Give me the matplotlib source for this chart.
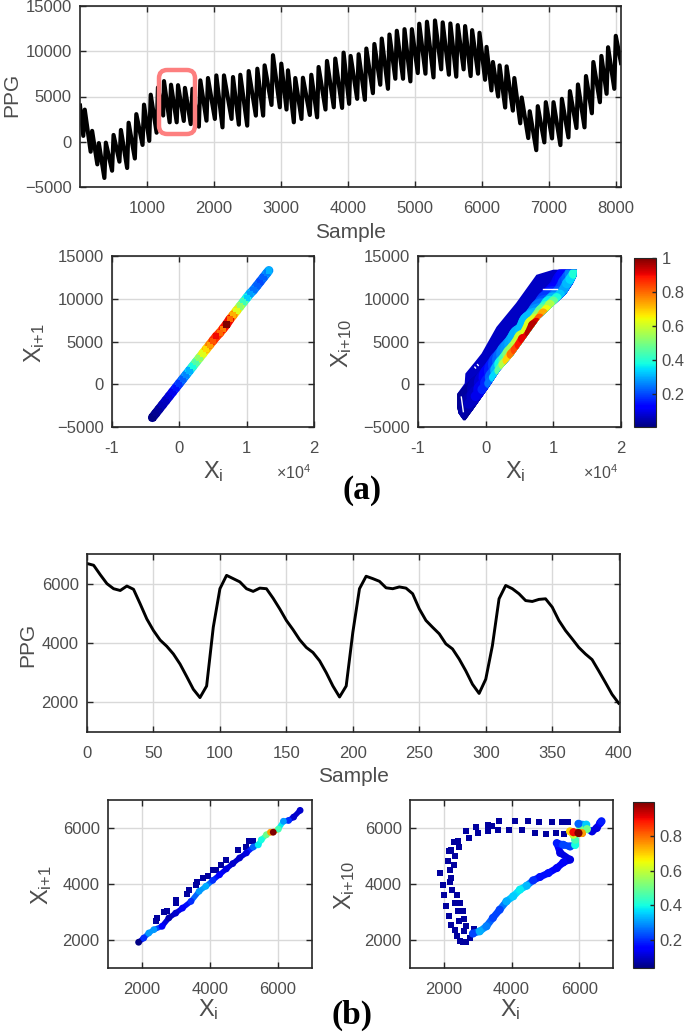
import numpy as np
import matplotlib
matplotlib.use("Agg")
from matplotlib import pyplot as plt
from matplotlib.collections import LineCollection
from matplotlib.patches import FancyBboxPatch, Polygon

W, H = 685, 1032
plt.rcParams["font.family"] = ["Liberation Sans", "DejaVu Sans"]
plt.rcParams["mathtext.fontset"] = "custom"
plt.rcParams["mathtext.rm"] = "Liberation Sans"
plt.rcParams["mathtext.default"] = "regular"

# long recording, read as peak and trough of every beat
peak_x = [1, 72, 182, 282, 387, 502, 612, 727, 842, 957, 1057, 1165, 1255, 1360, 1465, 1568, 1680,
          1798, 1912, 2037, 2151, 2286, 2395, 2520, 2649, 2758, 2883, 3007, 3107, 3216, 3330, 3455,
          3564, 3689, 3813, 3937, 4042, 4162, 4277, 4397, 4507, 4622, 4732, 4847, 4957, 5067, 5182,
          5302, 5417, 5532, 5642, 5752, 5857, 5967, 6072, 6167, 6267, 6372, 6487, 6597, 6717, 6837,
          6957, 7072, 7197, 7317, 7437, 7557, 7667, 7787, 7887, 8002]
peak_y = [4000, 3550, 1200, -150, -100, 750, 1300, 2100, 3050, 4100, 5200, 6000, 6700, 6300, 6250,
          5950, 5850, 6780, 7040, 7330, 7330, 7150, 7400, 7810, 8070, 8440, 9560, 8630, 7890, 7040,
          7070, 7400, 8260, 8930, 9190, 9850, 9480, 9670, 10300, 10800, 11400, 11850, 12260, 12440,
          12440, 13040, 13260, 13400, 13190, 13070, 12890, 12780, 12330, 12040, 10480, 8810, 8440,
          8330, 7040, 4890, 3370, 3930, 4370, 4370, 4740, 5590, 6330, 7260, 8810, 9480, 10440, 11700]
trough_x = [50, 160, 260, 365, 480, 590, 705, 820, 935, 1035, 1145, 1243, 1340, 1445, 1551, 1655, 1776,
            1890, 2015, 2129, 2264, 2373, 2498, 2627, 2736, 2861, 2985, 3085, 3194, 3308, 3433, 3542,
            3667, 3791, 3915, 4020, 4140, 4255, 4375, 4485, 4600, 4710, 4825, 4935, 5045, 5160, 5280,
            5395, 5510, 5620, 5730, 5835, 5945, 6050, 6145, 6245, 6350, 6465, 6575, 6695, 6815, 6935,
            7050, 7175, 7295, 7415, 7535, 7645, 7765, 7865, 7980, 8080]
trough_y = [650, -1100, -2500, -4000, -3200, -2200, -2900, -1850, -350, 100, 1000, 2900, 2150, 2150, 2300,
            1950, 1670, 2330, 2520, 1590, 2520, 1890, 1780, 2890, 2890, 4070, 3810, 3560, 2150, 2520,
            2960, 2700, 3560, 3810, 3740, 4190, 4740, 4630, 5370, 6300, 5850, 6960, 6960, 6670, 7590,
            7520, 7110, 8000, 7410, 7190, 8000, 7260, 7520, 6850, 5670, 5000, 3780, 3440, 2040, 410,
            -930, -70, 370, -370, 480, 1520, 1590, 3150, 4370, 5300, 5850, 8700]

# short segment, one reading every 5 samples
seg_x = list(range(0, 401, 5))
seg_y = [6680, 6620, 6300, 6000, 5830, 5770, 5920, 5810, 5320, 4810, 4420, 4100, 3890, 3630, 3290,
         2870, 2440, 2160, 2550, 4530, 5830, 6280, 6170, 6060, 5830, 5740, 5850, 5830, 5510, 5150,
         4760, 4450, 4110, 3850, 3680, 3400, 3000, 2550, 2180, 2550, 4360, 5830, 6250, 6170, 6080,
         5860, 5830, 5890, 5850, 5660, 5150, 4760, 4530, 4310, 3970, 3800, 3460, 3060, 2610, 2300,
         2780, 3910, 5490, 5940, 5830, 5660, 5430, 5400, 5470, 5490, 5210, 4760, 4420, 4140, 3850,
         3630, 3440, 3060, 2670, 2270, 1970]

# (a) lag 1 band
a1_x = [-4000, -3500, -3000, -2500, -2000, -1500, -1000, -500, 0, 500, 1000, 1500, 2000, 2500, 3000,
        3500, 4000, 4500, 5000, 5500, 6000, 6500, 7000, 7500, 8000, 8500, 9000, 9500, 10000, 10500,
        11000, 11500, 12000, 12500, 13000, 13300]
a1_y = [-3900, -3400, -2900, -2400, -1900, -1400, -900, -400, 100, 600, 1100, 1600, 2100, 2600, 3100,
        3600, 4100, 4600, 5100, 5600, 6000, 6500, 7000, 7600, 8100, 8600, 9100, 9600, 10100, 10600,
        11000, 11500, 12000, 12500, 13000, 13300]
a1_d = [.01, .02, .03, .05, .06, .08, .1, .14, .18, .22, .26, .3, .38, .45, .52, .62, .68, .74, .82,
        .9, .8, .78, 1.0, .8, .72, .62, .52, .42, .33, .28, .24, .22, .2, .22, .25, .3]

# (a) lag 10 blue cloud outline, then the ridge along its lower side
a2_edge_x = [-4200, -3100, -3000, -1600, -600, 1600, 4500, 7500, 10000, 13500, 13400, 12900, 11900,
             8000, 4000, 2100, 500, -1900, -3000, -3300, -4000, -4200]
a2_edge_y = [-1100, 100, 1250, 2600, 3600, 6700, 9500, 12800, 13400, 13400, 12600, 11800, 10600,
             7700, 3300, 1600, -300, -3000, -4200, -4200, -3400, -2700]
a2_x = [-3500, -2500, -1500, -500, 500, 1200, 2000, 2600, 3200, 3800, 4400, 5000, 5500, 6000, 6500,
        7000, 7500, 8000, 8500, 9000, 9500, 10000, 10500, 11000, 11500, 12000, 12500, 13000, 13400]
a2_y = [-3500, -2300, -1400, -600, 100, 800, 1600, 2300, 2800, 3500, 4000, 4600, 5300, 5400, 6000,
        6900, 7200, 7700, 8300, 8700, 9300, 9700, 10100, 10500, 11000, 11800, 12300, 12900, 13300]
a2_d = [.03, .05, .08, .12, .2, .28, .4, .52, .62, .75, .82, .85, .92, .9, .9, 1.0, .85, .78, .68,
        .6, .52, .42, .35, .3, .28, .3, .32, .36, .42]
a2_hole_x = [[8500, 10500], [-3600, -3300], [-1600, -1500], [-1200, -1100]]
a2_hole_y = [[11100, 11100], [-1500, -3200], [2000, 1900], [2300, 2200]]

# (b) lag 1
b1_sparse_x = [2400, 2450, 2640, 2740, 2990, 2990, 3310, 3390, 3600, 3630, 3800, 3930, 4080, 4180,
               4330, 4480, 4820, 5070, 5150, 5270]
b1_sparse_y = [2690, 2790, 2990, 3020, 3320, 3420, 3650, 3800, 3960, 4060, 4210, 4300, 4490, 4510,
               4690, 4850, 5200, 5310, 5520, 5520]
b1_x = [1900, 2050, 2200, 2350, 2590, 2790, 2990, 3190, 3440, 3680, 3880, 4080, 4280, 4480, 4670,
        4870, 5070, 5270, 5420, 5510, 5660, 5780, 5860, 6010, 6160, 6310, 6460, 6650]
b1_y = [1920, 2070, 2250, 2370, 2490, 2790, 2960, 3140, 3380, 3740, 3920, 4130, 4330, 4540, 4730,
        4930, 5110, 5320, 5400, 5580, 5760, 5850, 5850, 5960, 6240, 6270, 6390, 6630]
b1_d = [.04, .2, .3, .3, .15, .08, .1, .14, .2, .3, .32, .2, .15, .12, .1, .1, .12, .25, .38, .4,
        .5, .75, 1.0, .45, .3, .2, .1, .1]

# (b) lag 10
b2_sparse_x = [1900, 1970, 2000, 2070, 2140, 2220, 2320, 2390, 2490, 2560, 2660, 2760, 2150, 2220,
               2300, 2420, 2660, 2740, 2450, 2340, 2300, 2170, 2120, 2220, 2170, 2240, 2390, 2320,
               2470, 2420, 2560, 2440, 2610, 2660, 2890, 2610, 2960, 3010, 3310, 3410, 3310, 3600,
               3630, 4100, 3930, 4300, 4500, 4820, 4690, 5020, 5190, 5320, 5490, 5680, 5550]
b2_sparse_y = [4390, 3980, 3620, 3200, 2850, 2550, 2350, 2130, 1950, 1920, 1930, 2070, 5170, 5200,
               5490, 5550, 5880, 5640, 5320, 4990, 4690, 4510, 4830, 4210, 4060, 3800, 3620, 3320,
               3320, 3020, 3020, 2670, 2750, 2490, 2400, 2310, 6040, 5820, 6120, 6080, 5880, 5920,
               6260, 6260, 5920, 5920, 6240, 6200, 5820, 5790, 6210, 5820, 6210, 6210, 5790]
b2_x = [2860, 3060, 3260, 3450, 3650, 3850, 4050, 4250, 4450, 4640, 4840, 5090, 5340, 5530, 5730,
        5440, 5340, 5530, 5730, 5880, 5880, 5830, 5730, 5830, 5980, 6080, 5980, 6210, 6230, 6380,
        6520, 6620, 6660]
b2_y = [2230, 2310, 2490, 2790, 3080, 3380, 3560, 3800, 3940, 4130, 4250, 4390, 4570, 4770, 4870,
        5110, 5460, 5400, 5340, 5400, 5580, 5760, 5880, 5850, 5820, 5820, 6150, 6120, 5960, 5880,
        6000, 6180, 6240]
b2_d = [.22, .32, .28, .22, .22, .32, .35, .38, .33, .2, .17, .17, .14, .14, .12, .12, .18, .22, .22,
        .4, .45, .6, .7, .9, 1.0, .75, .25, .35, .5, .12, .12, .15, .18]

DARK = "#262626"
GREY = "#4d4d4d"
GRID = "#d9d9d9"


def place(left, top, right, bottom):
    # axes from pixel edges of the figure
    ax = fig.add_axes([left / W, 1 - bottom / H, (right - left) / W, (bottom - top) / H])
    for s in ax.spines.values():
        s.set_color(DARK)
        s.set_linewidth(1.2)
    ax.tick_params(direction="in", top=True, right=True, length=4, width=1, color=DARK,
                   labelcolor=GREY, labelsize=12)
    ax.tick_params(axis="x", pad=10)
    ax.tick_params(axis="y", pad=6)
    ax.grid(True, color=GRID, lw=1)
    ax.set_axisbelow(True)
    return ax


def label(x, y, s, size=15, rot=0, **kw):
    kw.setdefault("color", GREY)
    fig.text(x / W, 1 - y / H, s, fontsize=size, rotation=rot, ha="center", va="center", **kw)


def band(ax, x, y, d, width, vmin, vmax=1, zorder=3, clip=None):
    # thick path between the read points, coloured by density, hottest on top
    pts = np.column_stack([x, y])
    segs = np.stack([pts[:-1], pts[1:]], axis=1)
    vals = (np.array(d[:-1]) + np.array(d[1:])) / 2
    idx = np.argsort(vals)
    lc = LineCollection(segs[idx], array=vals[idx], cmap="jet", linewidths=width, capstyle="round",
                        zorder=zorder)
    lc.set_clim(vmin, vmax)
    ax.add_collection(lc)
    if clip is not None:
        lc.set_clip_path(clip)
    return lc


fig = plt.figure(figsize=(W / 100, H / 100), dpi=100)

# (a) long recording
ax = place(80, 6, 621, 187)
order = np.argsort(peak_x + trough_x)
long_x = np.array(peak_x + trough_x)[order]
long_y = np.array(peak_y + trough_y)[order]
ax.plot(long_x, long_y, color="black", lw=3, solid_joinstyle="round")
ax.set_xlim(1, 8080)
ax.set_ylim(-5000, 15000)
ax.set_xticks(range(1000, 8001, 1000))
ax.set_yticks(range(-5000, 15001, 5000))
label(12, 95, "PPG", rot=90)
label(350, 232, "Sample")

# red box over the segment shown in (b)
fig.add_artist(FancyBboxPatch((159 / W, 1 - 134 / H), 36 / W, 64 / H, transform=fig.transFigure,
                              boxstyle="round,pad=0,rounding_size=0.012",
                              mutation_aspect=W / H, fc="none", ec="#fd7f7f", lw=3.2))

# (a) lag 1
ax = place(112, 256, 314, 427)
band(ax, a1_x, a1_y, a1_d, 6.5, 0.003)
idx = np.argsort(a1_d)
sc = ax.scatter(np.array(a1_x)[idx], np.array(a1_y)[idx], c=np.array(a1_d)[idx], s=20, marker="s",
                cmap="jet", vmin=0.003, vmax=1, linewidths=0, zorder=4)
ax.set_xlim(-10000, 20000)
ax.set_ylim(-5000, 15000)
ax.set_xticks([-10000, 0, 10000, 20000])
ax.set_xticklabels(["-1", "0", "1", "2"])
ax.set_yticks(range(-5000, 15001, 5000))
label(35, 343, "$X_{i{+}1}$", size=17, rot=90)
label(213, 472, "$X_{i}$", size=17)
label(294, 473, r"$\times10^{4}$", size=11.5)

# (a) lag 10
ax = place(418, 256, 621, 427)
body = Polygon(np.column_stack([a2_edge_x, a2_edge_y]), closed=True, fc=plt.cm.jet(0.06), ec="none", zorder=2)
ax.add_patch(body)
for width, share, z in [(22, .33, 3), (13, .65, 4), (7, 1.0, 5)]:
    band(ax, a2_x, a2_y, list(np.array(a2_d) * share), width, 0.003, zorder=z, clip=body)
for hx, hy in zip(a2_hole_x, a2_hole_y):
    ax.plot(hx, hy, color="white", lw=1, zorder=6)
ax.set_xlim(-10000, 20000)
ax.set_ylim(-5000, 15000)
ax.set_xticks([-10000, 0, 10000, 20000])
ax.set_xticklabels(["-1", "0", "1", "2"])
ax.set_yticks(range(-5000, 15001, 5000))
label(342, 343, "$X_{i{+}10}$", size=17, rot=90)
label(515, 472, "$X_{i}$", size=17)
label(601, 473, r"$\times10^{4}$", size=11.5)

cax = fig.add_axes([634 / W, 1 - 427 / H, 22 / W, 169 / H])
cb = fig.colorbar(sc, cax=cax, ticks=[.2, .4, .6, .8, 1])
cb.ax.set_yticklabels(["0.2", "0.4", "0.6", "0.8", "1"])
cb.ax.tick_params(length=3, width=1, direction="in", color=DARK, labelcolor=GREY, labelsize=12, pad=4)
cb.outline.set_edgecolor(DARK)

label(362, 491, "(a)", size=24, family="Liberation Serif", weight="bold", color="black")

# (b) short segment
ax = place(87, 554, 620, 732)
ax.plot(seg_x, seg_y, color="black", lw=2.1, solid_joinstyle="round")
ax.set_xlim(0, 401)
ax.set_ylim(1000, 7000)
ax.set_xticks(range(0, 401, 50))
ax.set_yticks([2000, 4000, 6000])
label(28, 645, "PPG", rot=90)
label(353, 777, "Sample")

# (b) lag 1
ax = place(108, 800, 312, 968)
ax.scatter(b1_sparse_x, b1_sparse_y, color=plt.cm.jet(0.03), s=13, marker="s", linewidths=0)
band(ax, b1_x, b1_y, b1_d, 3.8, 0.035)
idx = np.argsort(b1_d)
ax.scatter(np.array(b1_x)[idx], np.array(b1_y)[idx], c=np.array(b1_d)[idx], s=24, marker="o",
           cmap="jet", vmin=0.035, vmax=1, linewidths=0, zorder=4)
ax.set_xlim(1000, 7000)
ax.set_ylim(1000, 7000)
ax.set_xticks([2000, 4000, 6000])
ax.set_yticks([2000, 4000, 6000])
label(42, 885, "$X_{i{+}1}$", size=17, rot=90)
label(208, 1010, "$X_{i}$", size=17)

# (b) lag 10
ax = place(410, 800, 613, 968)
ax.scatter(b2_sparse_x, b2_sparse_y, color=plt.cm.jet(0.03), s=13, marker="s", linewidths=0)
band(ax, b2_x, b2_y, b2_d, 5, 0.035)
idx = np.argsort(b2_d)
sc = ax.scatter(np.array(b2_x)[idx], np.array(b2_y)[idx], c=np.array(b2_d)[idx], s=34, marker="o",
                cmap="jet", vmin=0.035, vmax=1, linewidths=0, zorder=4)
ax.set_xlim(1000, 7000)
ax.set_ylim(1000, 7000)
ax.set_xticks([2000, 4000, 6000])
ax.set_yticks([2000, 4000, 6000])
label(345, 885, "$X_{i{+}10}$", size=17, rot=90)
label(510, 1010, "$X_{i}$", size=17)

cax = fig.add_axes([633 / W, 1 - 968 / H, 21 / W, 166 / H])
cb = fig.colorbar(sc, cax=cax, ticks=[.2, .4, .6, .8])
cb.ax.set_yticklabels(["0.2", "0.4", "0.6", "0.8"])
cb.ax.tick_params(length=3, width=1, direction="in", color=DARK, labelcolor=GREY, labelsize=12, pad=4)
cb.outline.set_edgecolor(DARK)

label(352, 1015, "(b)", size=24, family="Liberation Serif", weight="bold", color="black")

fig.savefig("out.png", dpi=100)
